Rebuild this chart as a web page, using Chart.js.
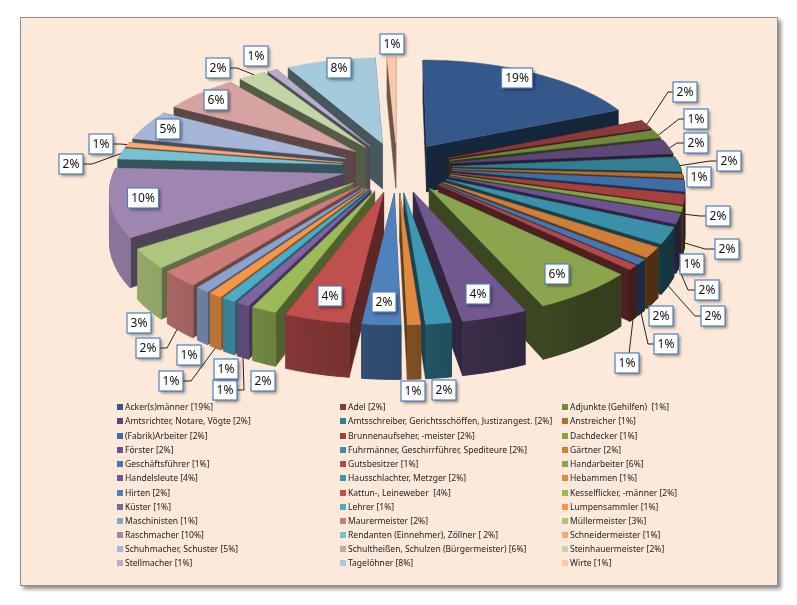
<!DOCTYPE html>
<html>
<head>
<meta charset="utf-8">
<title>Berufe</title>
<script src="https://cdn.jsdelivr.net/npm/chart.js@4"></script>
<style>
*{margin:0;padding:0;box-sizing:border-box}
body{width:797px;height:605px;background:#fff;position:relative;overflow:hidden;font-family:"Noto Sans",sans-serif}
#panel{position:absolute;left:20px;top:17px;width:758px;height:569px;background:#fde9d9;border:1px solid #8c8c8c;box-shadow:3px 3px 4px #8a8a8a}
#wrap{position:absolute;left:0;top:0;width:797px;height:605px}
#legend div{position:absolute;font-size:9.5px;line-height:12px;color:#222;white-space:pre;transform-origin:0 50%;transform:scaleX(.9)}
#legend i{position:absolute;width:6px;height:6px}
</style>
</head>
<body>
<div id="panel"></div>
<div id="wrap"><canvas id="pie" width="797" height="605"></canvas></div>
<div id="legend"></div>
<script>
// ---- data ----
var categories = [
  'Acker(s)männer [19%]', 'Adel [2%]', 'Adjunkte (Gehilfen)  [1%]',
  'Amtsrichter, Notare, Vögte [2%]', 'Amtsschreiber, Gerichtsschöffen, Justizangest. [2%]', 'Anstreicher [1%]',
  '(Fabrik)Arbeiter [2%]', 'Brunnenaufseher, -meister [2%]', 'Dachdecker [1%]',
  'Förster [2%]', 'Fuhrmänner, Geschirrführer, Spediteure [2%]', 'Gärtner [2%]',
  'Geschäftsführer [1%]', 'Gutsbesitzer [1%]', 'Handarbeiter [6%]',
  'Handelsleute [4%]', 'Hausschlachter, Metzger [2%]', 'Hebammen [1%]',
  'Hirten [2%]', 'Kattun-, Leineweber  [4%]', 'Kesselflicker, -männer [2%]',
  'Küster [1%]', 'Lehrer [1%]', 'Lumpensammler [1%]',
  'Maschinisten [1%]', 'Maurermeister [2%]', 'Müllermeister [3%]',
  'Raschmacher [10%]', 'Rendanten (Einnehmer), Zöllner [ 2%]', 'Schneidermeister [1%]',
  'Schuhmacher, Schuster [5%]', 'Schultheißen, Schulzen (Bürgermeister) [6%]', 'Steinhauermeister [2%]',
  'Stellmacher [1%]', 'Tagelöhner [8%]', 'Wirte [1%]'
];
// slice sizes
var values = [
  18.65, 1.45, 1.25,
  2.22, 2.26, 0.62,
  1.71, 1.5, 0.73,
  1.5, 2.45, 1.54,
  0.78, 0.68, 6.2,
  3.87, 1.51, 0.77,
  2.26, 3.82, 1.5,
  0.8, 0.81, 0.81,
  0.83, 2.37, 2.9,
  10.2, 1.66, 0.71,
  4.68, 6.03, 2.2,
  0.8, 7.38, 0.74
];
// printed labels
var pctLabels = [19,2,1,2,2,1,2,2,1,2,2,2,1,1,6,4,2,1,2,4,2,1,1,1,1,2,3,10,2,1,5,6,2,1,8,1];
var colors = [
  '#34588a','#8a3a38','#6f8a3c',
  '#5c4776','#357d91','#b66d31',
  '#3f6ea6','#a5403d','#84a446',
  '#6c5491','#3a90a8','#d07f38',
  '#4777b3','#b0494a','#8ba54e',
  '#71598f','#3f98b3','#e08a3f',
  '#4f81bd','#c0504d','#9bbb59',
  '#8064a2','#4bacc6','#f79646',
  '#8aa3cc','#cc7d7a','#aec57d',
  '#9e86b0','#78c0d4','#f9a870',
  '#a6b6d6','#d5a3a2','#c3d5a5',
  '#b8aecb','#a5cadb','#fbc8ab'
];

// ---- label boxes: centre x, centre y, elbow x (null = no leader), attach on wall (0 top .. 1 bottom) ----
var labelBoxes = [
  [517,78,null,0],[685,92,668,0],[696,119,679,0],
  [696,143,677,0],[729,161,710,0],[699,177,null,0],
  [718,216,700,.6],[727,249,705,.9],[692,264,null,0],
  [707,290,688,1],[713,316,695,1],[661,316,null,0],
  [666,344,648,1],[627,363,628,1],[557,274,null,0],
  [478,294,null,0],[444,390,null,0],[413,391,null,0],
  [384,302,null,0],[330,296,null,0],[263,381,null,0],
  [225,390,244,1],[226,369,null,0],[171,381,191,1],
  [189,355,null,0],[148,348,167,1],[139,323,null,0],
  [143,198,null,0],[71,164,92,0],[101,144,120,0],
  [168,129,null,0],[216,100,null,0],[218,68,237,0],
  [256,56,null,0],[339,68,null,0],[392,44,null,0]
];

// ---- 3D view ----
var VIEW = { radius: 228, tilt: 0.458, persp: 0.000633, depth: 46.5 };

function shade(hex, f) {
  var n = parseInt(hex.slice(1), 16);
  var r = Math.round((n >> 16 & 255) * f), g = Math.round((n >> 8 & 255) * f), b = Math.round((n & 255) * f);
  return 'rgb(' + r + ',' + g + ',' + b + ')';
}

var pie3d = {
  id: 'pie3d',
  beforeDatasetsDraw: function (chart) {
    var ctx = chart.ctx;
    var arcs = chart.getDatasetMeta(0).data;
    var k = VIEW.radius / arcs[0].outerRadius;

    function pt(u, v, down) {
      var p = 1 / (1 - VIEW.persp * v);
      return { x: arcs[0].x + u * p, y: arcs[0].y + VIEW.tilt * v * p + down * VIEW.depth * Math.pow(p, 0.8) };
    }
    function poly(pts, fill, lw) {
      ctx.beginPath();
      pts.forEach(function (q, i) { if (i) ctx.lineTo(q.x, q.y); else ctx.moveTo(q.x, q.y); });
      ctx.closePath();
      ctx.fillStyle = fill;
      ctx.strokeStyle = fill;
      ctx.lineWidth = lw;
      ctx.fill();
      ctx.stroke();
    }

    var slices = arcs.map(function (arc, i) {
      var mid = (arc.startAngle + arc.endAngle) / 2;
      var ex = arc.options.offset * k;
      var ax = ex * Math.cos(mid), ay = ex * Math.sin(mid);
      var rim = [];
      var steps = Math.max(2, Math.ceil((arc.endAngle - arc.startAngle) / 0.03));
      for (var s = 0; s <= steps; s++) {
        var a = arc.startAngle + (arc.endAngle - arc.startAngle) * s / steps;
        rim.push({ a: a, u: ax + VIEW.radius * Math.cos(a), v: ay + VIEW.radius * Math.sin(a) });
      }
      return { i: i, mid: mid, ax: ax, ay: ay, rim: rim };
    });
    chart.$slices = slices;
    chart.$pt = pt;

    // back to front
    slices.slice().sort(function (p, q) { return Math.sin(p.mid) - Math.sin(q.mid); }).forEach(function (sl) {
      var col = colors[sl.i];
      var first = sl.rim[0], last = sl.rim[sl.rim.length - 1];
      var fr = 0.43 + 0.25 * Math.max(0, -Math.cos(sl.mid)) * Math.max(0, Math.sin(sl.mid));
      [first, last].sort(function (p, q) { return p.v - q.v; }).forEach(function (e) {
        poly([pt(sl.ax, sl.ay, 0), pt(e.u, e.v, 0), pt(e.u, e.v, 1), pt(sl.ax, sl.ay, 1)], shade(col, fr), 0.5);
      });
      for (var j = 0; j < sl.rim.length - 1; j++) {
        var p = sl.rim[j], q = sl.rim[j + 1];
        if (Math.sin(p.a) < -0.05 && Math.sin(q.a) < -0.05) continue; // rim faces away from us
        var f = Math.min(0.88, Math.max(0.38, 0.58 - 0.34 * Math.cos(p.a)));
        poly([pt(p.u, p.v, 0), pt(q.u, q.v, 0), pt(q.u, q.v, 1), pt(p.u, p.v, 1)], shade(col, f), 1);
      }
      var top = [pt(sl.ax, sl.ay, 0)];
      sl.rim.forEach(function (r) { top.push(pt(r.u, r.v, 0)); });
      poly(top, col, 0.5);
    });
    return false;
  },
  afterDraw: function (chart) {
    var ctx = chart.ctx;
    var slices = chart.$slices, pt = chart.$pt;
    // leaders first, boxes on top
    ctx.save();
    ctx.strokeStyle = '#222';
    ctx.lineWidth = 1;
    labelBoxes.forEach(function (b, i) {
      if (b[2] === null) return;
      var sl = slices[i], m = sl.rim[Math.floor(sl.rim.length / 2)];
      var end = pt(m.u, m.v, b[3]);
      ctx.beginPath();
      ctx.moveTo(b[0], b[1]);
      ctx.lineTo(b[2], b[1]);
      ctx.lineTo(end.x, end.y);
      ctx.stroke();
    });
    ctx.restore();
    labelBoxes.forEach(function (b, i) {
      var txt = pctLabels[i] + '%';
      var w = txt.length > 2 ? 31 : 24, h = 20;
      ctx.save();
      ctx.shadowColor = 'rgba(0,0,0,.45)';
      ctx.shadowBlur = 3;
      ctx.shadowOffsetX = 2;
      ctx.shadowOffsetY = 2;
      ctx.fillStyle = '#fff';
      ctx.fillRect(b[0] - w / 2, b[1] - h / 2, w, h);
      ctx.restore();
      ctx.strokeStyle = '#4f81bd';
      ctx.lineWidth = 1.2;
      ctx.strokeRect(b[0] - w / 2, b[1] - h / 2, w, h);
      ctx.fillStyle = '#111';
      ctx.font = '12px "Noto Sans"';
      ctx.textAlign = 'center';
      ctx.textBaseline = 'middle';
      ctx.fillText(txt, b[0], b[1] + 0.5);
    });
  }
};

new Chart(document.getElementById('pie'), {
  type: 'pie',
  data: { labels: categories, datasets: [{ data: values, backgroundColor: colors, offset: 36, borderWidth: 0 }] },
  options: {
    responsive: false,
    animation: false,
    layout: { padding: { left: 0, right: 3, top: 0, bottom: 271 } },
    plugins: { legend: { display: false }, tooltip: { enabled: false } }
  },
  plugins: [pie3d]
});

// ---- legend, three columns ----
var legendEl = document.getElementById('legend');
var colX = [117, 340, 562];
var rowY = [407, 421, 435.5, 450, 464, 478, 492.5, 506.5, 520.5, 535, 549, 563];
categories.forEach(function (name, i) {
  var x = colX[i % 3], y = rowY[Math.floor(i / 3)];
  var sw = document.createElement('i');
  sw.style.cssText = 'left:' + x + 'px;top:' + (y - 3) + 'px;background:' + colors[i];
  legendEl.appendChild(sw);
  var t = document.createElement('div');
  t.style.left = (x + 8) + 'px';
  t.style.top = (y - 6) + 'px';
  t.textContent = name;
  legendEl.appendChild(t);
});
</script>
</body>
</html>
